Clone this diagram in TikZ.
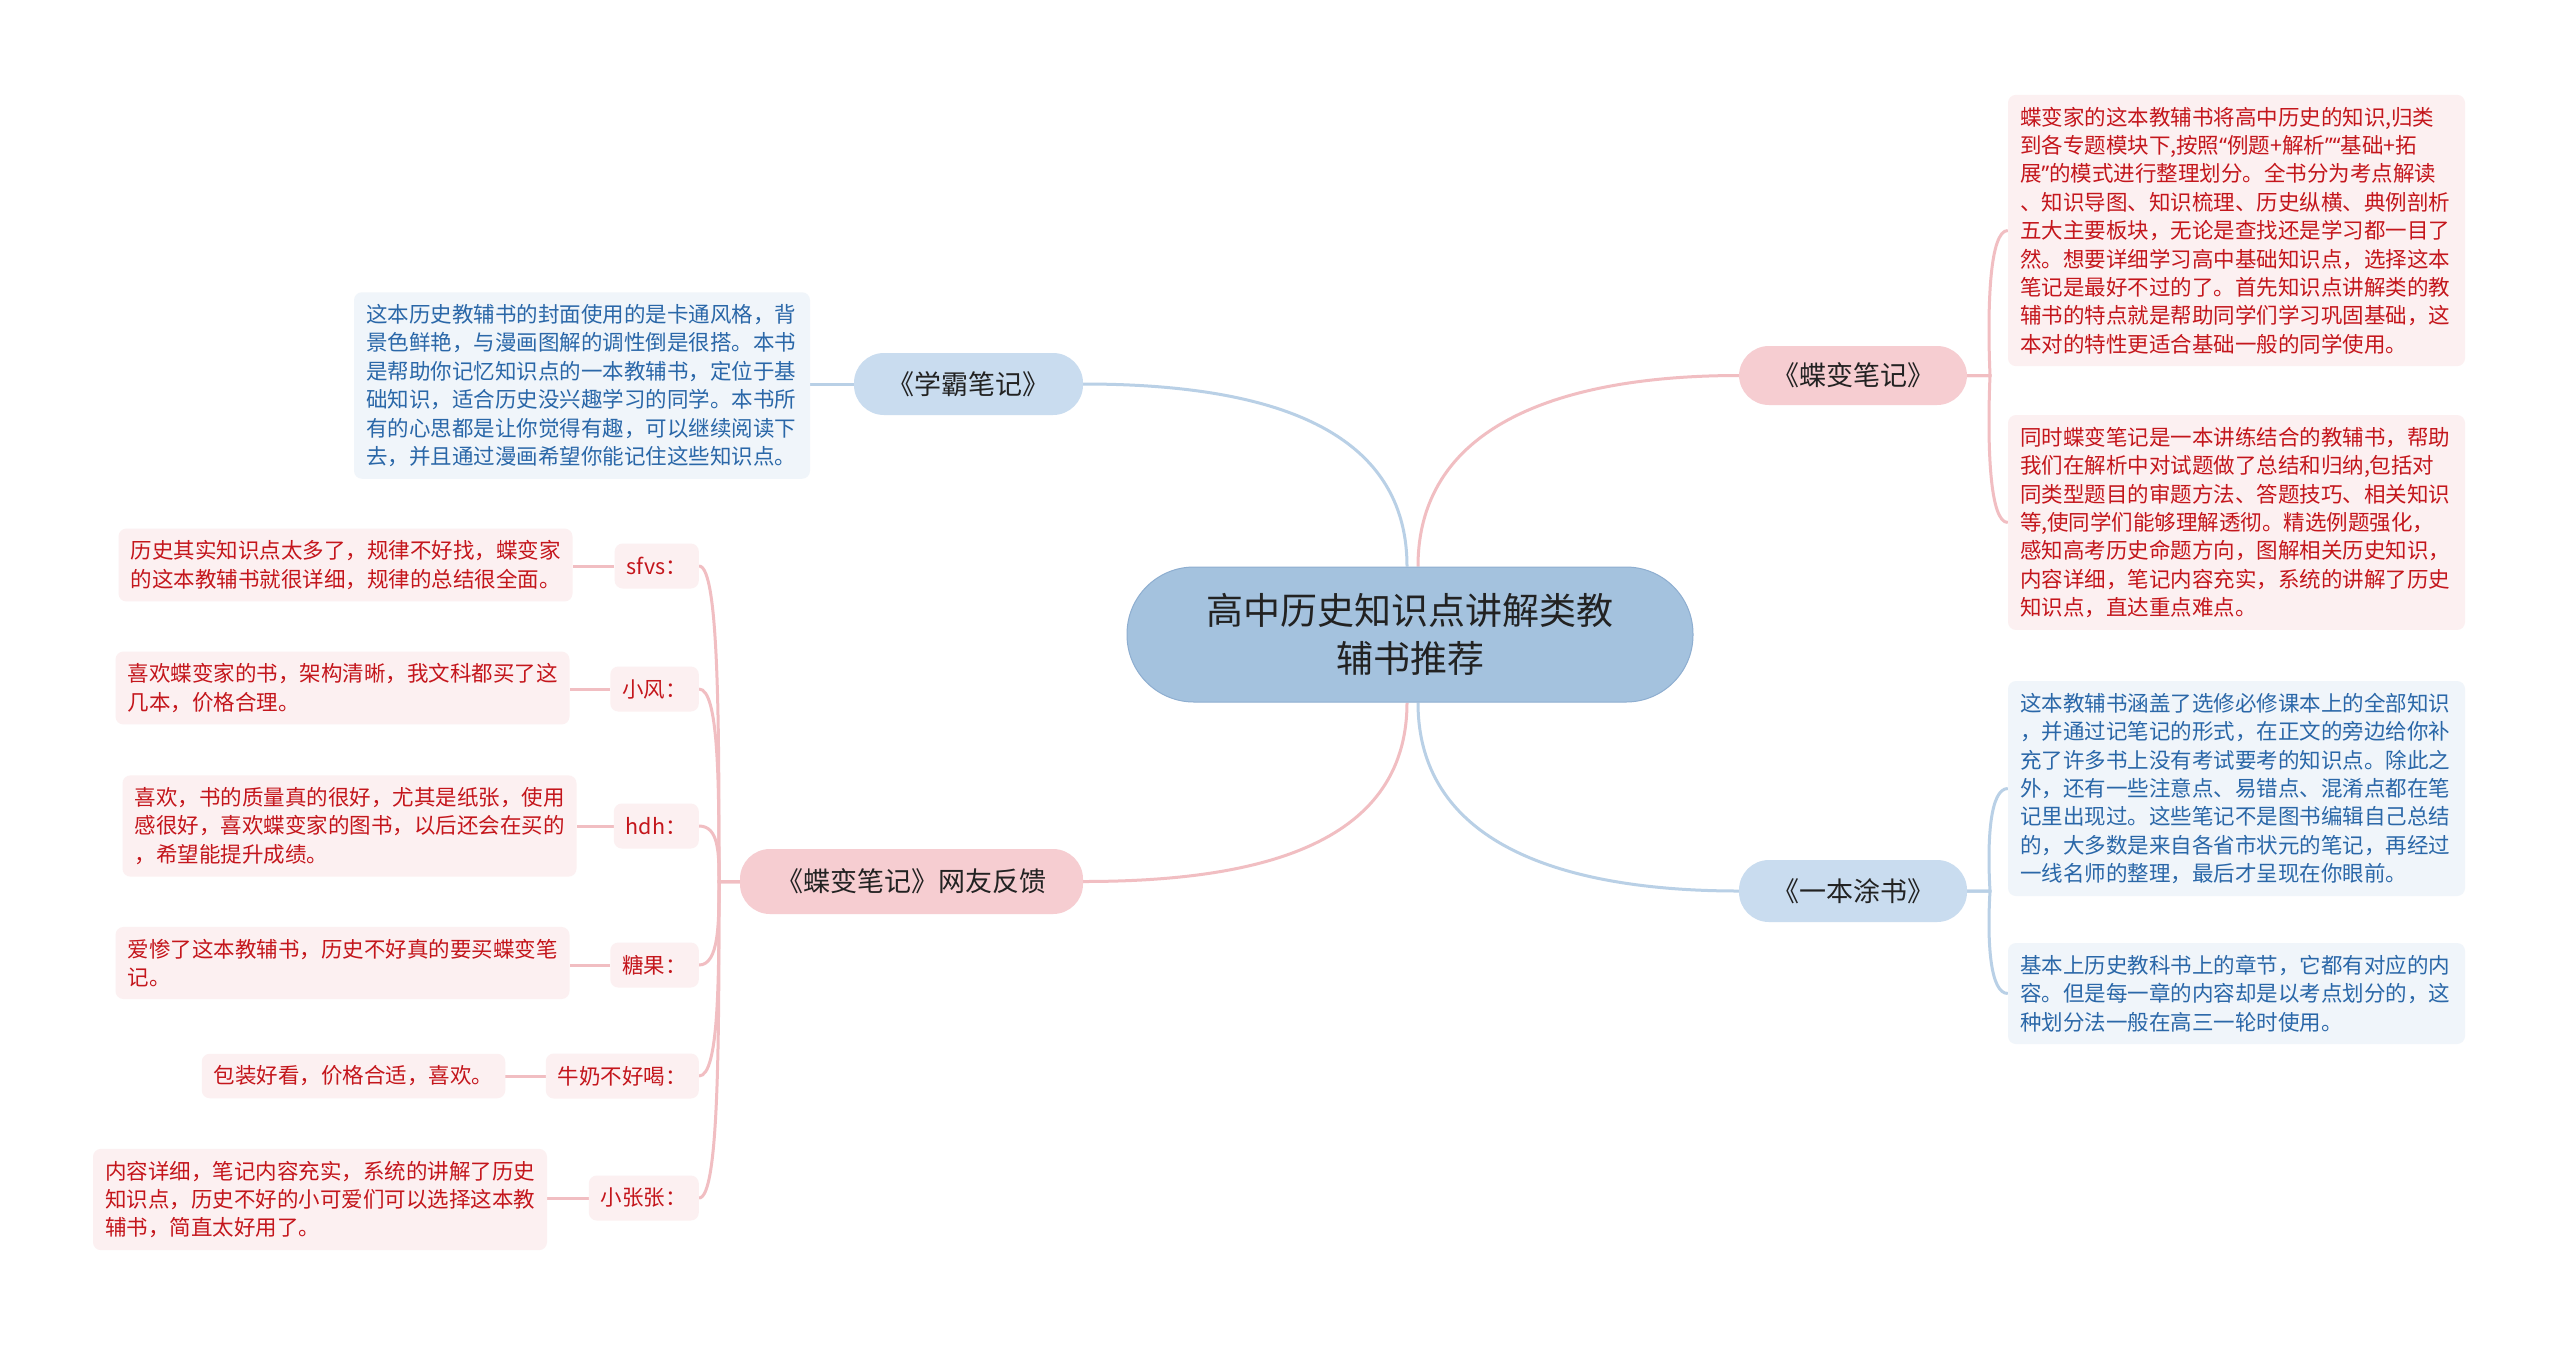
\documentclass[tikz,border=0pt]{standalone}
\usepackage{fontspec}
\setmainfont{Noto Sans CJK SC}
\newfontfamily\qfont{Noto Sans}
\usetikzlibrary{calc}
\pgfdeclarelayer{bg}
\pgfsetlayers{bg,main}
\definecolor{cfill}{HTML}{A4C2DE}
\definecolor{cdraw}{HTML}{8EAED0}
\definecolor{btfill}{HTML}{C9DCEF}
\definecolor{ptfill}{HTML}{F6CDD1}
\definecolor{blfill}{HTML}{F0F5FA}
\definecolor{plfill}{HTML}{FCF0F1}
\definecolor{btext}{HTML}{2A67A8}
\definecolor{rtext}{HTML}{C4161C}
\definecolor{blcol}{HTML}{B9D0E6}
\definecolor{plcol}{HTML}{F1BEC2}
\definecolor{dtext}{HTML}{222222}
\newcommand\leaffont{\fontsize{21.5pt}{28.4pt}\selectfont}
\newcommand\myLq{{\qfont “}}
\newcommand\myRq{{\qfont ”}}
\tikzset{
  cnode/.style={rectangle, rounded corners=67pt, fill=cfill, draw=cdraw, line width=1pt,
    minimum width=566pt, minimum height=135pt, align=center, text=dtext,
    font=\fontsize{37pt}{48pt}\selectfont},
  topic/.style={rectangle, rounded corners=30pt, minimum width=228pt, minimum height=60pt,
    text=dtext, font=\fontsize{27pt}{32pt}\selectfont, inner xsep=14pt},
  btopic/.style={topic, fill=btfill},
  ptopic/.style={topic, fill=ptfill},
  leaf/.style={rectangle, rounded corners=8pt, align=left, inner xsep=12pt, inner ysep=12pt, font=\leaffont},
  bleaf/.style={leaf, fill=blfill, text=btext},
  pleaf/.style={leaf, fill=plfill, text=rtext},
  slabel/.style={rectangle, rounded corners=8pt, fill=plfill, text=rtext, font=\leaffont,
    minimum height=45pt, inner xsep=12pt, anchor=east},
  bline/.style={draw=blcol, line width=3pt},
  pline/.style={draw=plcol, line width=3pt},
}
\begin{document}
\begin{tikzpicture}[x=1pt,y=-1pt]
\useasboundingbox (0,0) rectangle (2560,1345);

% central and main topics
\node[cnode] (c) at (1410,634.5) {高中历史知识点讲解类教\\辅书推荐};
\node[btopic, minimum width=229pt, minimum height=62pt] (xb) at (968.5,384) {《学霸笔记》};
\node[ptopic, minimum height=59pt] (dbj) at (1853,375.5) {《蝶变笔记》};
\node[btopic, minimum height=62pt] (ybt) at (1853,891) {《一本涂书》};
\node[ptopic, minimum width=343pt, minimum height=65pt] (fb) at (911.5,881.5) {《蝶变笔记》网友反馈};

% right leaves
\node[pleaf, text width=433pt] (dl1) at (2236.5,230.5) {蝶变家的这本教辅书将高中历史的知识,归类\\到各专题模块下,按照\myLq 例题+解析\myRq\myLq 基础+拓\\展\myRq 的模式进行整理划分。全书分为考点解读\\、知识导图、知识梳理、历史纵横、典例剖析\\五大主要板块，无论是查找还是学习都一目了\\然。想要详细学习高中基础知识点，选择这本\\笔记是最好不过的了。首先知识点讲解类的教\\辅书的特点就是帮助同学们学习巩固基础，这\\本对的特性更适合基础一般的同学使用。};
\node[pleaf, text width=433pt] (dl2) at (2236.5,522.5) {同时蝶变笔记是一本讲练结合的教辅书，帮助\\我们在解析中对试题做了总结和归纳,包括对\\同类型题目的审题方法、答题技巧、相关知识\\等,使同学们能够理解透彻。精选例题强化，\\感知高考历史命题方向，图解相关历史知识，\\内容详细，笔记内容充实，系统的讲解了历史\\知识点，直达重点难点。};
\node[bleaf, text width=433pt] (yl1) at (2236.5,788.5) {这本教辅书涵盖了选修必修课本上的全部知识\\，并通过记笔记的形式，在正文的旁边给你补\\充了许多书上没有考试要考的知识点。除此之\\外，还有一些注意点、易错点、混淆点都在笔\\记里出现过。这些笔记不是图书编辑自己总结\\的，大多数是来自各省市状元的笔记，再经过\\一线名师的整理，最后才呈现在你眼前。};
\node[bleaf, text width=433pt] (yl2) at (2236.5,993.5) {基本上历史教科书上的章节，它都有对应的内\\容。但是每一章的内容却是以考点划分的，这\\种划分法一般在高三一轮时使用。};

% left leaf of 学霸笔记
\node[bleaf, text width=432pt] (xbl) at (582,385.5) {这本历史教辅书的封面使用的是卡通风格，背\\景色鲜艳，与漫画图解的调性倒是很搭。本书\\是帮助你记忆知识点的一本教辅书，定位于基\\础知识，适合历史没兴趣学习的同学。本书所\\有的心思都是让你觉得有趣，可以继续阅读下\\去，并且通过漫画希望你能记住这些知识点。};

% feedback labels
\node[slabel] (s1) at (699,566) {sfvs：};
\node[slabel] (s2) at (699,689) {小风：};
\node[slabel] (s3) at (699,826) {hdh：};
\node[slabel] (s4) at (699,965) {糖果：};
\node[slabel] (s5) at (699,1076) {牛奶不好喝：};
\node[slabel] (s6) at (699,1198) {小张张：};

% feedback leaves
\node[pleaf] (f1) at (345.5,565) {历史其实知识点太多了，规律不好找，蝶变家\\的这本教辅书就很详细，规律的总结很全面。};
\node[pleaf] (f2) at (342.5,688) {喜欢蝶变家的书，架构清晰，我文科都买了这\\几本，价格合理。};
\node[pleaf] (f3) at (349.5,826) {喜欢，书的质量真的很好，尤其是纸张，使用\\感很好，喜欢蝶变家的图书，以后还会在买的\\，希望能提升成绩。};
\node[pleaf] (f4) at (342.5,963) {爱惨了这本教辅书，历史不好真的要买蝶变笔\\记。};
\node[pleaf] (f5) at (353.5,1076) {包装好看，价格合适，喜欢。};
\node[pleaf] (f6) at (320,1199.5) {内容详细，笔记内容充实，系统的讲解了历史\\知识点，历史不好的小可爱们可以选择这本教\\辅书，简直太好用了。};

\begin{pgfonlayer}{bg}
\fill[white] (0,0) rectangle (2560,1345);
% center to main topics
\draw[bline] ($(c.north)+(-3,0)$) .. controls ($(c.north)+(-3,-147)$) and ($(xb.east)+(167,0)$) .. (xb.east);
\draw[pline] ($(c.north)+(8,0)$) .. controls ($(c.north)+(8,-147)$) and ($(dbj.west)+(-167,0)$) .. (dbj.west);
\draw[pline] ($(c.south)+(-3,0)$) .. controls ($(c.south)+(-3,146)$) and ($(fb.east)+(167,0)$) .. (fb.east);
\draw[bline] ($(c.south)+(8,0)$) .. controls ($(c.south)+(8,146)$) and ($(ybt.west)+(-167,0)$) .. (ybt.west);

% 学霸笔记 leaf
\draw[bline] (xb.west) -- (xb.west -| xbl.east);

% 蝶变笔记 bracket
\draw[pline] (dbj.east) -- (1990,375.5) .. controls (1987,303) and (1990,230.5) .. (dl1.west);
\draw[pline] (dbj.east) -- (1990,375.5) .. controls (1987,449) and (1990,522.5) .. (dl2.west);

% 一本涂书 bracket
\draw[bline] (ybt.east) -- (1990,891) .. controls (1987,840) and (1990,788.5) .. (yl1.west);
\draw[bline] (ybt.east) -- (1990,891) .. controls (1987,942) and (1990,993.5) .. (yl2.west);

% feedback bracket
\draw[pline] (fb.west) -- (719,881.5) .. controls (719,724) and (719,566) .. (s1.east);
\draw[pline] (fb.west) -- (719,881.5) .. controls (719,785) and (719,689) .. (s2.east);
\draw[pline] (fb.west) -- (719,881.5) .. controls (719,854) and (719,826) .. (s3.east);
\draw[pline] (fb.west) -- (719,881.5) .. controls (719,923) and (719,965) .. (s4.east);
\draw[pline] (fb.west) -- (719,881.5) .. controls (719,979) and (719,1076) .. (s5.east);
\draw[pline] (fb.west) -- (719,881.5) .. controls (719,1040) and (719,1198) .. (s6.east);

% label to leaf
\draw[pline] (s1.west) -- (s1.west -| f1.east);
\draw[pline] (s2.west) -- (s2.west -| f2.east);
\draw[pline] (s3.west) -- (s3.west -| f3.east);
\draw[pline] (s4.west) -- (s4.west -| f4.east);
\draw[pline] (s5.west) -- (s5.west -| f5.east);
\draw[pline] (s6.west) -- (s6.west -| f6.east);
\end{pgfonlayer}
\end{tikzpicture}
\end{document}
